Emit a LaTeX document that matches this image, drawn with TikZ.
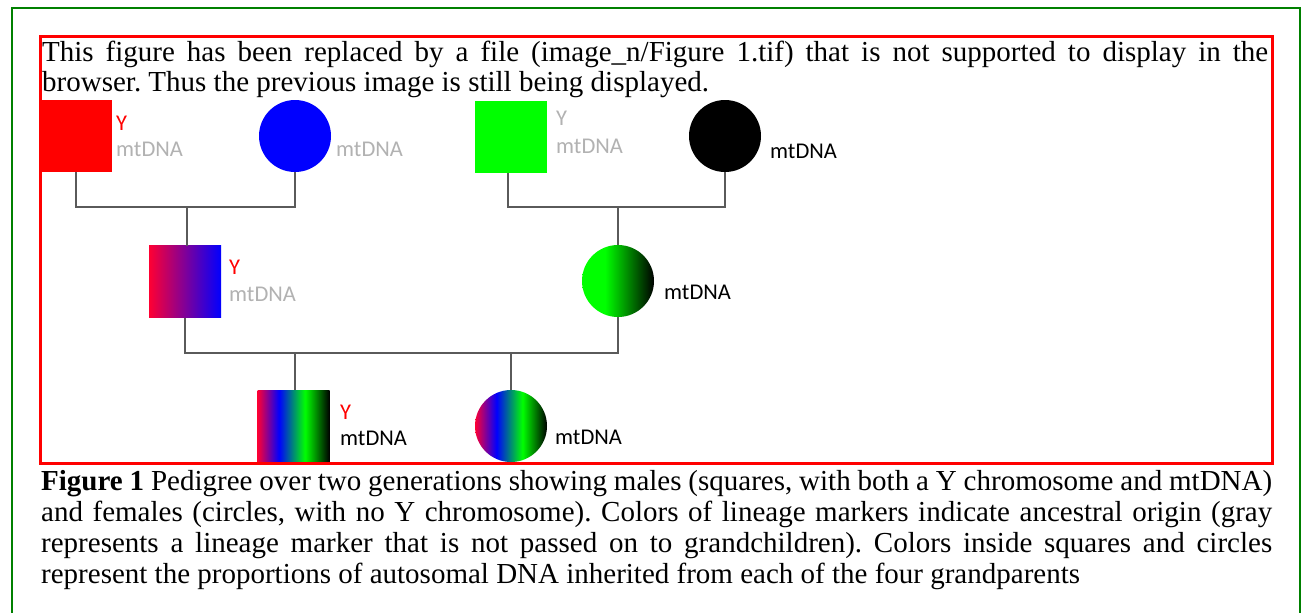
\documentclass[tikz,border=0pt]{standalone}
\usepackage{fontspec}
\setmainfont{Liberation Serif}
\newfontfamily\labfont{Carlito}
\frenchspacing
\definecolor{pinkred}{RGB}{255,0,51}
\definecolor{vgreen}{RGB}{0,255,0}
\definecolor{lgray}{RGB}{178,178,178}
\definecolor{linegray}{RGB}{90,90,90}
\definecolor{framegreen}{RGB}{0,128,0}
\definecolor{framered}{RGB}{255,0,0}
\pgfdeclarehorizontalshading{magblue}{100bp}{color(0bp)=(pinkred); color(25bp)=(pinkred); color(75bp)=(blue); color(100bp)=(blue)}
\pgfdeclarehorizontalshading{greenblack}{100bp}{color(0bp)=(vgreen); color(25bp)=(vgreen); color(41bp)=(vgreen); color(75bp)=(black); color(100bp)=(black)}
\pgfdeclarehorizontalshading{fourgp}{100bp}{color(0bp)=(pinkred); color(25bp)=(pinkred); color(40bp)=(blue); color(58bp)=(vgreen); color(75bp)=(black); color(100bp)=(black)}
\begin{document}
\begin{tikzpicture}[x=1pt,y=-1pt,
  sq/.style={rectangle, minimum size=72pt, inner sep=0pt, outer sep=0pt},
  circ/.style={circle, minimum size=72pt, inner sep=0pt, outer sep=0pt},
  lab/.style={anchor=west, inner sep=0pt, font=\labfont\fontsize{22.5}{26}\selectfont},
  link/.style={draw=linegray, line width=1.4pt},
  body/.style={anchor=base west, inner sep=0pt, font=\fontsize{29}{31}\selectfont}]
\useasboundingbox (0,0) rectangle (1301,613);
\fill[white] (0,0) rectangle (1301,613);
% shapes
\node[sq, fill=red] (rs) at (76,136) {};
\node[circ, fill=blue] (bc) at (295,136) {};
\node[sq, fill=vgreen] (gs) at (511,137) {};
\node[circ, fill=black] (kc) at (725,136) {};
\node[sq, shade, shading=magblue] (ms) at (185,281.5) {};
\node[circ, shade, shading=greenblack] (gc) at (618,281) {};
\node[sq, shade, shading=fourgp] (cs) at (293.5,426) {};
\node[circ, shade, shading=fourgp] (cc) at (511,426) {};
% connectors
\coordinate (j1) at (187,207);
\coordinate (j2) at (618,207);
\coordinate (j3) at (295,353);
\coordinate (j4) at (511,353);
\draw[link] (rs.south) |- (j1) -| (bc.south);
\draw[link] (j1) -- (j1 |- ms.north);
\draw[link] ([xshift=-3pt]gs.south) |- (j2) -| (kc.south);
\draw[link] (j2) -- (gc.north);
\draw[link] (ms.south) |- (j3) -- (j4) -| (gc.south);
\draw[link] (j3) -- (j3 |- cs.north);
\draw[link] (j4) -- (cc.north);
% labels
\node[lab, text=red] (l1) at (116,123) {Y};
\node[lab, text=lgray] (l2) at (116,149) {mtDNA};
\node[lab, text=lgray] (l3) at (336,149) {mtDNA};
\node[lab, text=lgray] (l4) at (556,118) {Y};
\node[lab, text=lgray] (l5) at (556,146) {mtDNA};
\node[lab, text=black] (l6) at (770,151) {mtDNA};
\node[lab, text=red] (l7) at (229,267) {Y};
\node[lab, text=lgray] (l8) at (229,294) {mtDNA};
\node[lab, text=black] (l9) at (664,292) {mtDNA};
\node[lab, text=red] (l10) at (340,412) {Y};
\node[lab, text=black] (l11) at (340,438) {mtDNA};
\node[lab, text=black] (l12) at (555,437) {mtDNA};
% frames
\draw[framered, line width=3pt] (40,36.5) rectangle (1272,463);
\draw[framegreen, line width=2pt] (12,630) -- (12,8) -- (1300,8) -- (1300,630);
% texts
\node[body] (t1) at (42,61) {\makebox[1226pt][s]{This figure has been replaced by a file (image\_n/Figure 1.tif) that is not supported to display in the}};
\node[body] (t2) at (42,91) {browser. Thus the previous image is still being displayed.};
\node[body] (c1) at (41,490) {\makebox[1231pt][s]{\textbf{Figure 1} Pedigree over two generations showing males (squares, with both a Y chromosome and mtDNA)}};
\node[body] (c2) at (41,521) {\makebox[1231pt][s]{and females (circles, with no Y chromosome). Colors of lineage markers indicate ancestral origin (gray}};
\node[body] (c3) at (41,552) {\makebox[1231pt][s]{represents a lineage marker that is not passed on to grandchildren). Colors inside squares and circles}};
\node[body] (c4) at (41,583) {represent the proportions of autosomal DNA inherited from each of the four grandparents};
\end{tikzpicture}
\end{document}
